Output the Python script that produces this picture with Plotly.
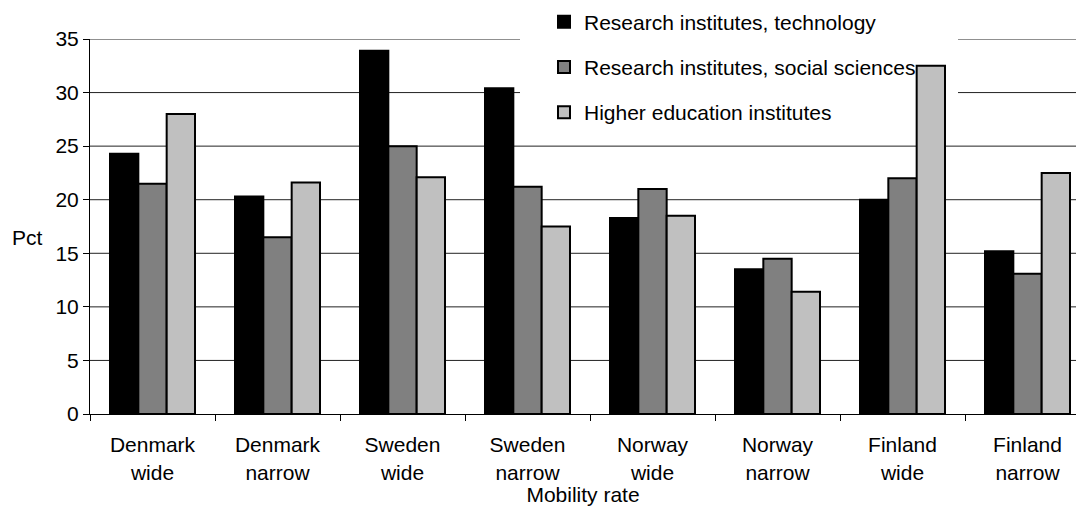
import plotly.graph_objects as go

categories = ["Denmark<br>wide", "Denmark<br>narrow", "Sweden<br>wide", "Sweden<br>narrow",
              "Norway<br>wide", "Norway<br>narrow", "Finland<br>wide", "Finland<br>narrow"]
series_names = ["Research institutes, technology",
                "Research institutes, social sciences",
                "Higher education institutes"]
tech = [24.3, 20.3, 33.9, 30.4, 18.3, 13.5, 20.0, 15.2]
social = [21.5, 16.5, 25.0, 21.2, 21.0, 14.5, 22.0, 13.1]
higher = [28.0, 21.6, 22.1, 17.5, 18.5, 11.4, 32.5, 22.5]
y_ticks = [0, 5, 10, 15, 20, 25, 30, 35]

colors = ["#000000", "#808080", "#C0C0C0"]
FONT = "Arial, Liberation Sans, sans-serif"
FS = 21

fig = go.Figure()
for i, (name, vals) in enumerate(zip(series_names, [tech, social, higher])):
    fig.add_trace(go.Bar(
        x=categories, y=vals, name=name, legendgroup=f"g{i}",
        marker=dict(color=colors[i], line=dict(color="#000000", width=2)),
    ))

# gridlines drawn as shapes under the bars, then a white box for the legend area
shapes = []
for v in y_ticks[1:]:
    shapes.append(dict(type="line", xref="paper", yref="y", x0=0, x1=1, y0=v, y1=v,
                       line=dict(color="#222222", width=1), layer="below"))
shapes.append(dict(type="rect", xref="paper", yref="paper",
                   x0=(520 - 90) / 986, x1=(958 - 90) / 986,
                   y0=(414 - 130) / 375, y1=1.1, fillcolor="white",
                   line=dict(width=0), layer="below"))

fig.update_layout(
    width=1076, height=509,
    margin=dict(l=90, r=0, t=39, b=95, autoexpand=False),
    paper_bgcolor="white", plot_bgcolor="white",
    barmode="group", bargap=0.32, bargroupgap=0,
    font=dict(family=FONT, size=FS, color="black"),
    showlegend=True,
    legend=dict(x=(544 - 90) / 986, y=(414 - 1.5) / 375, xanchor="left", yanchor="top",
                bgcolor="rgba(0,0,0,0)", font=dict(size=FS),
                tracegroupgap=15, itemwidth=30),
    xaxis=dict(range=[-0.5, 7.388], showline=True, linecolor="black", linewidth=1,
               ticks="outside", tickson="boundaries", ticklen=6, tickcolor="black",
               tickfont=dict(size=FS), showgrid=False, ticklabelstandoff=12,
               title=dict(text="Mobility rate", font=dict(size=FS), standoff=2)),
    yaxis=dict(range=[0, 35], tickvals=y_ticks, showline=True, linecolor="black",
               linewidth=1, ticks="outside", ticklen=6, tickcolor="black",
               tickfont=dict(size=FS), showgrid=False, zeroline=False, title=None),
    shapes=shapes,
    annotations=[dict(text="Pct", xref="paper", yref="paper",
                      x=(10 - 90) / 986, y=(414 - 237) / 375, xanchor="left",
                      yanchor="middle", showarrow=False, font=dict(size=FS))],
)

fig.write_html("out.html")
